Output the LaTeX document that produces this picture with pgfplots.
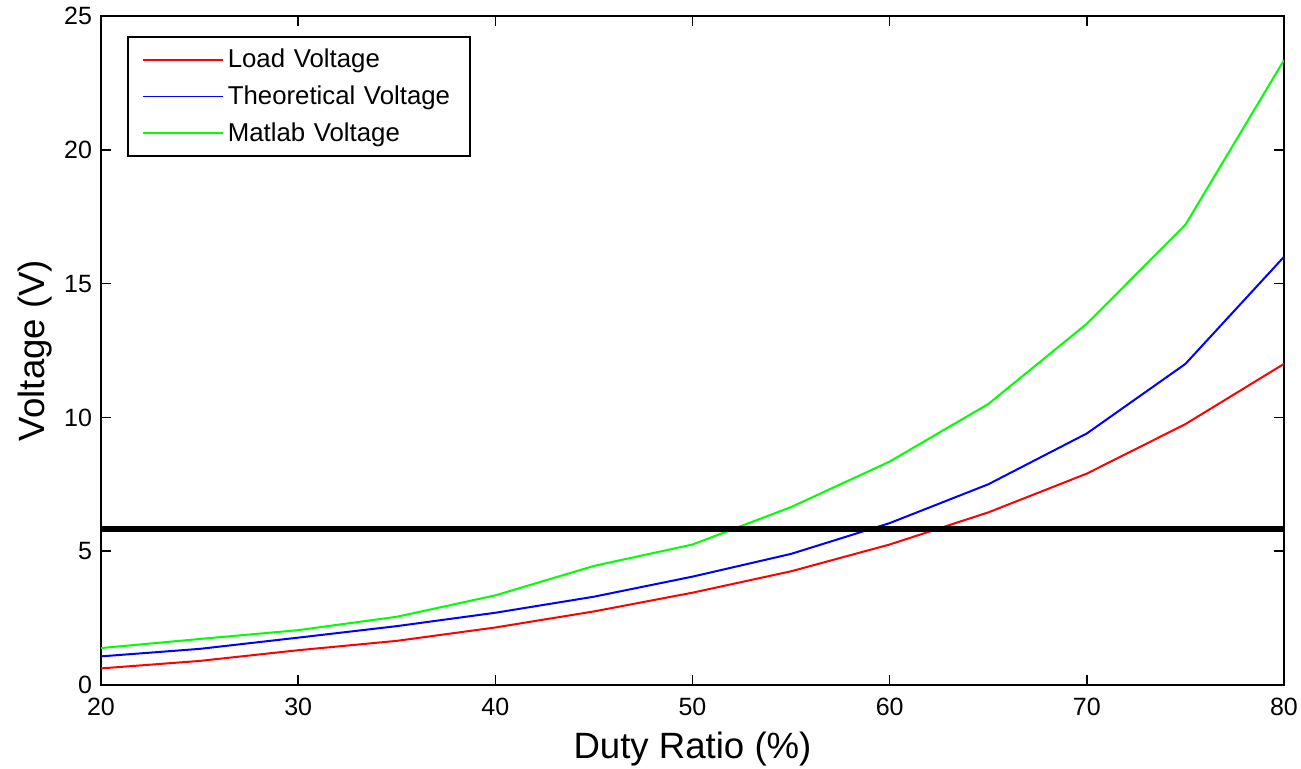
\documentclass[border=0pt]{standalone}
\usepackage{pgfplots}
\pgfplotsset{compat=1.18}
\usepackage{fontspec}
\setmainfont{Liberation Sans}
\begin{document}
\begin{tikzpicture}
\path[use as bounding box] (-50.5pt,-41.5pt) rectangle (600pt,342.5pt);
\begin{axis}[
  at={(0,0)}, anchor=south west,
  scale only axis, width=591.5pt, height=334.5pt,
  xmin=20, xmax=80, ymin=0, ymax=25,
  xtick={20,30,...,80}, ytick={0,5,...,25},
  tick align=inside, major tick length=5pt,
  axis line style={line width=1.2pt}, tick style={black, line width=0.8pt},
  /pgf/number format/assume math mode=true,
  ticklabel style={font=\fontsize{12.5}{14}\selectfont},
  xticklabel style={yshift=-3pt},
  yticklabel style={xshift=-1pt},
  xlabel={Duty Ratio (\%)}, ylabel={Voltage (V)},
  label style={font=\fontsize{18.3}{21}\selectfont},
  xlabel style={yshift=-1pt}, ylabel style={yshift=-1pt},
  legend style={at={(0,1)}, anchor=north west, xshift=13pt, yshift=-10pt,
    draw=black, line width=1pt, font=\fontsize{12.9}{15}\selectfont,
    row sep=3.5pt, inner xsep=7pt, inner ysep=4pt, text width=112pt},
  legend cell align=left,
]
\addplot[red, line width=1pt, forget plot] coordinates {(20,0.62) (25,0.9) (30,1.3) (35,1.65) (40,2.15) (45,2.75) (50,3.45) (55,4.25) (60,5.25) (65,6.45) (70,7.9) (75,9.75) (80,12.0)};
\addplot[blue, line width=1pt, forget plot] coordinates {(20,1.07) (25,1.35) (30,1.77) (35,2.2) (40,2.7) (45,3.3) (50,4.05) (55,4.9) (60,6.05) (65,7.5) (70,9.4) (75,12.0) (80,16.0)};
\addplot[green, line width=1pt, forget plot] coordinates {(20,1.38) (25,1.72) (30,2.05) (35,2.55) (40,3.35) (45,4.45) (50,5.25) (55,6.65) (60,8.35) (65,10.5) (70,13.5) (75,17.2) (80,23.35)};
\addplot[black, line width=2.6pt, forget plot] coordinates {(20,5.83) (80,5.83)};
\addlegendimage{legend image code/.code={\draw[red, line width=0.9pt] (0pt,0pt) -- (40pt,0pt);}}
\addlegendentry{Load Voltage}
\addlegendimage{legend image code/.code={\draw[blue, line width=0.9pt] (0pt,0pt) -- (40pt,0pt);}}
\addlegendentry{Theoretical Voltage}
\addlegendimage{legend image code/.code={\draw[green, line width=0.9pt] (0pt,0pt) -- (40pt,0pt);}}
\addlegendentry{Matlab Voltage}
\end{axis}
\end{tikzpicture}
\end{document}
